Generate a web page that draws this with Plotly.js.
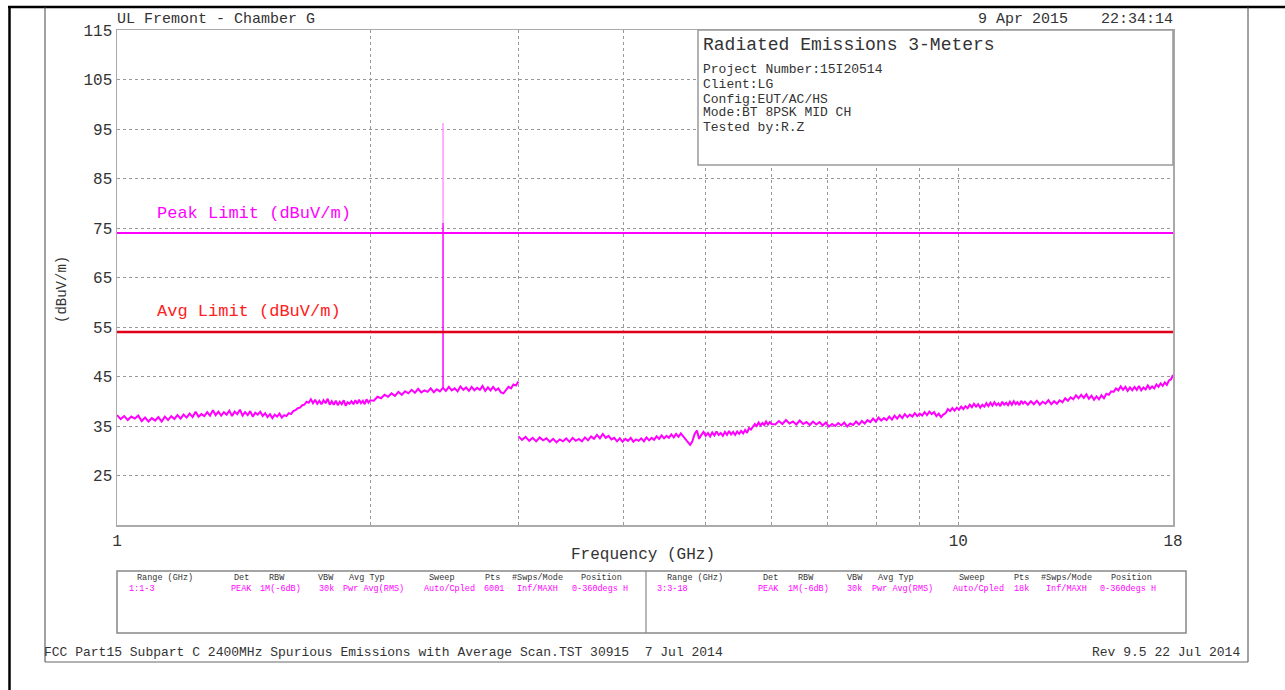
<!DOCTYPE html>
<html>
<head>
<meta charset="utf-8">
<script src="https://cdn.plot.ly/plotly-3.0.1.min.js"></script>
<style>html,body{margin:0;padding:0;background:#fff;}#chart{width:1285px;height:690px;}</style>
</head>
<body>
<div id="chart"></div>
<script>
// ---------------- DATA ----------------
// Scan 1: 1-3 GHz
const freqA = [
1.00,1.01,1.02,1.03,1.04,1.05,1.06,1.07,1.08,1.09,1.10,
1.11,1.12,1.13,1.14,1.15,1.16,1.17,1.18,1.19,1.20,
1.21,1.22,1.23,1.24,1.25,1.26,1.27,1.28,1.29,1.30,
1.31,1.32,1.33,1.34,1.35,1.36,1.37,1.38,1.39,1.40,
1.41,1.42,1.43,1.44,1.45,1.46,1.47,1.48,1.49,1.50,
1.51,1.52,1.53,1.54,1.55,1.56,1.57,1.58,1.59,1.60,
1.61,1.62,1.63,1.64,1.65,1.66,1.67,1.68,1.69,1.70,
1.71,1.72,1.73,1.74,1.75,1.76,1.77,1.78,1.79,1.80,
1.81,1.82,1.83,1.84,1.85,1.86,1.87,1.88,1.89,1.90,
1.91,1.92,1.93,1.94,1.95,1.96,1.97,1.98,1.99,2.00,
2.02,2.04,2.06,2.08,2.10,2.12,2.14,2.16,2.18,2.20,
2.22,2.24,2.26,2.28,2.30,2.32,2.34,2.36,2.38,2.40,
2.42,2.44,2.46,2.48,2.50,2.52,2.54,2.56,2.58,2.60,
2.62,2.64,2.66,2.68,2.70,2.72,2.74,2.76,2.78,2.80,
2.82,2.84,2.86,2.88,2.90,2.92,2.94,2.96,2.98,3.00];
const levelA = [
37.2,36.4,37.0,36.2,36.9,36.5,37.1,36.0,36.7,35.9,36.6,
36.1,36.8,35.9,36.9,36.2,37.0,36.4,37.2,36.5,37.3,
36.7,37.5,36.8,37.9,36.9,37.4,37.0,37.8,37.1,38.2,
37.2,37.9,37.1,37.8,37.3,38.1,37.0,37.9,37.4,38.3,
37.1,37.8,37.2,38.0,36.9,37.7,37.3,37.9,37.0,37.6,
36.8,37.4,36.6,37.3,36.9,37.5,36.7,37.2,37.0,37.6,
37.4,38.0,38.2,38.6,38.7,39.2,39.3,39.9,39.7,40.4,
39.6,40.3,39.5,40.1,39.4,40.2,39.6,40.5,39.3,40.0,
39.3,40.1,39.2,39.9,39.4,40.2,39.1,39.8,39.5,40.0,
39.4,40.2,39.5,40.3,39.6,40.1,39.4,40.4,39.7,40.2,
40.1,40.9,40.6,41.3,40.9,41.6,41.1,41.9,41.3,42.0,
41.6,42.3,41.7,42.5,41.8,42.2,41.9,42.6,41.8,42.4,
42.0,42.7,42.1,42.9,42.2,42.6,42.0,43.0,42.3,42.8,
42.1,42.9,42.2,42.7,42.3,43.1,42.1,42.8,42.2,42.9,
42.2,42.6,41.8,41.6,42.3,42.9,42.6,43.4,43.2,44.0];

// Scan 2: 3-18 GHz
const freqB = [
3.00,3.03,3.06,3.09,3.12,3.15,3.18,3.21,3.24,3.27,
3.30,3.33,3.36,3.39,3.42,3.45,3.48,3.51,3.54,3.57,
3.60,3.63,3.66,3.69,3.72,3.75,3.78,3.81,3.84,3.87,
3.90,3.93,3.96,3.99,4.02,4.05,4.08,4.11,4.14,4.17,
4.20,4.23,4.26,4.29,4.32,4.35,4.38,4.41,4.44,4.47,
4.50,4.53,4.56,4.59,4.62,4.65,4.68,4.71,4.74,4.77,
4.80,4.83,4.86,4.89,4.92,4.95,4.98,5.01,5.04,5.07,
5.10,5.13,5.16,5.19,5.22,5.25,5.28,5.31,5.34,5.37,
5.40,5.43,5.46,5.49,5.52,5.55,5.58,5.61,5.64,5.67,
5.70,5.73,5.76,5.79,5.82,5.85,5.88,5.91,5.94,5.97,
6.00,
6.06,6.12,6.18,6.24,6.30,6.36,6.42,6.48,6.54,6.60,
6.66,6.72,6.78,6.84,6.90,6.96,7.02,7.08,7.14,7.20,
7.26,7.32,7.38,7.44,7.50,7.56,7.62,7.68,7.74,7.80,
7.86,7.92,7.98,8.04,8.10,8.16,8.22,8.28,8.34,8.40,
8.46,8.52,8.58,8.64,8.70,8.76,8.82,8.88,8.94,9.00,
9.06,9.12,9.18,9.24,9.30,9.36,9.42,9.48,9.54,9.60,
9.66,9.72,9.78,9.84,9.90,9.96,10.02,10.08,10.14,10.20,
10.26,10.32,10.38,10.44,10.50,10.56,10.62,10.68,10.74,10.80,
10.86,10.92,10.98,11.04,11.10,11.16,11.22,11.28,11.34,11.40,
11.46,11.52,11.58,11.64,11.70,11.76,11.82,11.88,11.94,12.00,
12.1,12.2,12.3,12.4,12.5,12.6,12.7,12.8,12.9,13.0,
13.1,13.2,13.3,13.4,13.5,13.6,13.7,13.8,13.9,14.0,
14.1,14.2,14.3,14.4,14.5,14.6,14.7,14.8,14.9,15.0,
15.1,15.2,15.3,15.4,15.5,15.6,15.7,15.8,15.9,16.0,
16.1,16.2,16.3,16.4,16.5,16.6,16.7,16.8,16.9,17.0,
17.1,17.2,17.3,17.4,17.5,17.6,17.7,17.8,17.9,18.0];
const levelB = [
32.9,32.2,32.8,32.0,32.6,31.9,32.7,32.1,32.5,31.8,
32.4,31.7,32.3,31.9,32.5,31.8,32.6,32.0,32.4,31.9,
32.7,32.1,32.9,32.4,33.2,32.5,33.4,32.6,33.0,32.3,
32.6,31.9,32.5,31.8,32.4,32.0,32.6,31.8,32.3,32.0,
32.5,31.9,32.7,32.1,32.6,32.2,32.9,32.4,33.1,32.5,
33.0,32.6,33.3,32.7,33.4,32.8,33.5,32.9,32.4,31.8,
31.2,31.9,33.4,34.1,32.4,33.2,33.8,33.0,33.6,32.9,
33.7,33.1,33.9,33.2,33.6,33.0,33.8,33.2,34.0,33.3,
33.8,33.2,33.9,33.4,34.0,33.5,34.2,33.6,34.6,34.3,
34.9,35.4,35.0,35.7,35.1,35.6,35.2,35.9,35.3,35.8,
35.4,
35.3,36.0,35.4,36.2,35.5,35.9,35.3,36.1,35.4,35.8,
35.2,35.9,35.3,35.8,35.1,35.7,34.9,35.4,35.0,35.6,
35.1,35.7,34.9,35.5,35.2,35.9,35.3,36.0,35.5,36.2,
35.8,36.5,35.9,36.7,36.1,36.6,36.2,36.9,36.3,37.1,
36.5,37.2,36.6,37.4,36.8,37.3,36.9,37.6,37.0,37.5,
37.1,37.8,37.2,37.9,37.4,37.8,37.0,37.5,36.8,37.3,
37.6,38.4,38.0,38.6,38.1,38.7,38.3,38.9,38.4,39.0,
38.6,39.3,38.8,39.5,38.9,39.4,38.7,39.3,38.9,39.6,
39.0,39.7,39.1,39.8,39.2,39.6,39.0,39.9,39.3,39.7,
39.2,39.9,39.3,40.0,39.4,39.8,39.2,40.1,39.5,39.9,
39.3,40.0,39.4,40.1,39.3,39.9,39.5,40.2,39.4,40.0,
39.5,40.2,39.8,40.6,40.1,40.8,40.4,41.2,40.6,41.3,
40.7,41.4,40.5,41.1,40.3,41.0,40.4,41.2,40.6,41.5,
41.3,42.0,41.9,42.6,42.2,43.0,42.3,42.9,42.1,42.8,
42.2,42.9,42.3,43.1,42.2,42.8,42.4,43.2,42.5,43.0,
42.6,43.4,42.9,43.6,43.1,43.8,43.3,44.2,44.4,45.3];

// Carrier spike (2.441 GHz)
const spikeFreq = [2.441];
const spikeBase = [42.6];
const spikeKnee = [76.0];
const spikePeak = [96.2];

// Limits
const limitFreq = [1, 18];
const peakLimit = [74, 74];
const avgLimit = [54, 54];

// Axis ticks
const yTicks = [25, 35, 45, 55, 65, 75, 85, 95, 105, 115];
const xTickVals = [1, 2, 3, 4, 5, 6, 7, 8, 9, 10, 18];
const xTickText = ['1', '', '', '', '', '', '', '', '', '10', '18'];

// Texts
const siteTitle = 'UL Fremont - Chamber G';
const runDate = '9 Apr 2015';
const runTime = '22:34:14';
const boxTitle = 'Radiated Emissions 3-Meters';
const boxLines = ['Project Number:15I20514', 'Client:LG', 'Config:EUT/AC/HS', 'Mode:BT 8PSK MID CH', 'Tested by:R.Z'];
const peakLabel = 'Peak Limit (dBuV/m)';
const avgLabel = 'Avg Limit (dBuV/m)';
const yTitle = '(dBuV/m)';
const xTitle = 'Frequency (GHz)';
const tableHeaders = ['Range (GHz)', 'Det', 'RBW', 'VBW', 'Avg Typ', 'Sweep', 'Pts', '#Swps/Mode', 'Position'];
const table1Values = ['1:1-3', 'PEAK', '1M(-6dB)', '30k', 'Pwr Avg(RMS)', 'Auto/Cpled', '6001', 'Inf/MAXH', '0-360degs H'];
const table2Values = ['3:3-18', 'PEAK', '1M(-6dB)', '30k', 'Pwr Avg(RMS)', 'Auto/Cpled', '18k', 'Inf/MAXH', '0-360degs H'];
const footerLeft = 'FCC Part15 Subpart C 2400MHz Spurious Emissions with Average Scan.TST 30915  7 Jul 2014';
const footerRight = 'Rev 9.5 22 Jul 2014';

// ---------------- LAYOUT HELPERS ----------------
const L = 117, R = 1173, T = 30, B = 525;
const PX = x => (x - L) / (R - L);
const PY = y => (B - y) / (B - T);
const FONT = '"Liberation Mono", "DejaVu Sans Mono", monospace';
const TXT = '#333';
const MAG = '#ff00ff';

const traces = [
  {x: freqA, y: levelA, mode: 'lines', line: {color: MAG, width: 2}},
  {x: freqB, y: levelB, mode: 'lines', line: {color: MAG, width: 2}},
  {x: [spikeFreq[0], spikeFreq[0]], y: [spikeBase[0], spikeKnee[0]], mode: 'lines', line: {color: MAG, width: 1.5}},
  {x: [spikeFreq[0], spikeFreq[0]], y: [spikeKnee[0], spikePeak[0]], mode: 'lines', line: {color: '#ff99ff', width: 1.5}},
  {x: limitFreq, y: peakLimit, mode: 'lines', line: {color: MAG, width: 2}},
  {x: limitFreq, y: avgLimit, mode: 'lines', line: {color: '#e0001a', width: 2.5}}
];

function ann(text, x, y, xa, size, color, extra) {
  return Object.assign({text: text, xref: 'paper', yref: 'paper', x: PX(x), y: PY(y),
    xanchor: xa, yanchor: 'middle', showarrow: false,
    font: {family: FONT, size: size, color: color || TXT}}, extra || {});
}

const annotations = [
  ann(siteTitle, 115, 19, 'left', 15),
  ann(runDate, 1070, 19, 'right', 15),
  ann(runTime, 1175, 19, 'right', 15),
  ann(boxTitle, 701, 45, 'left', 18),
  ann(peakLabel, 155, 213, 'left', 17, MAG),
  ann(avgLabel, 155, 311, 'left', 17, '#ff2020'),
  ann(yTitle, 62, 290, 'center', 14, TXT, {textangle: -90}),
  ann(xTitle, 643, 555, 'center', 16),
  ann(footerLeft, 42, 652, 'left', 13),
  ann(footerRight, 1242, 652, 'right', 13)
];
const boxLineY = [70, 84, 99, 113, 127];
boxLines.forEach((t, i) => annotations.push(ann(t, 701, boxLineY[i], 'left', 13)));

const hdrX1 = [165, 241, 277, 326, 367, 442, 492, 537, 601];
const valX1 = [127, 241, 280, 326, 373, 449, 494, 537, 600];
const hdrX2 = [695, 770, 806, 855, 896, 972, 1021, 1066, 1131];
const valX2 = [655, 768, 808, 854, 902, 978, 1021, 1066, 1128];
tableHeaders.forEach((t, i) => {
  annotations.push(ann(t, hdrX1[i], 578, 'center', 8.5));
  annotations.push(ann(t, hdrX2[i], 578, 'center', 8.5));
});
table1Values.forEach((t, i) => annotations.push(ann(t, valX1[i], 589, i === 0 ? 'left' : 'center', 8.5, MAG)));
table2Values.forEach((t, i) => annotations.push(ann(t, valX2[i], 589, i === 0 ? 'left' : 'center', 8.5, MAG)));

function line(x0, y0, x1, y1, color, width) {
  return {type: 'line', xref: 'paper', yref: 'paper', x0: PX(x0), y0: PY(y0), x1: PX(x1), y1: PY(y1),
    line: {color: color, width: width}, layer: 'above'};
}
const shapes = [
  {type: 'rect', xref: 'paper', yref: 'paper', x0: PX(698), x1: PX(1173), y0: PY(165), y1: PY(30),
   fillcolor: '#fff', line: {color: '#999', width: 1.5}, layer: 'above'},
  {type: 'rect', xref: 'paper', yref: 'paper', x0: PX(117), x1: PX(1186), y0: PY(633), y1: PY(571),
   fillcolor: 'rgba(0,0,0,0)', line: {color: '#888', width: 1.5}, layer: 'above'},
  line(646, 571, 646, 633, '#888', 1.2),
  line(8, 7, 1285, 7, '#000', 2.5),
  line(9.5, 7, 9.5, 690, '#000', 2.5),
  line(45, 7, 45, 662, '#444', 1),
  line(1248, 7, 1248, 662, '#444', 1),
  line(45, 662, 1248, 662, '#666', 1)
];

const layout = {
  width: 1285, height: 690,
  margin: {l: L, r: 1285 - R, t: T, b: 690 - B, pad: 0},
  paper_bgcolor: '#fff', plot_bgcolor: '#fff',
  showlegend: false, hovermode: false,
  xaxis: {
    type: 'log', range: [0, Math.log10(18)],
    tickvals: xTickVals, ticktext: xTickText, ticks: '',
    showgrid: true, gridcolor: '#999', griddash: 'dot', gridwidth: 1,
    showline: true, mirror: true, linecolor: '#aaa', linewidth: 1.5,
    zeroline: false, tickfont: {family: FONT, size: 16, color: TXT}
  },
  yaxis: {
    range: [15, 115], tickvals: yTicks, ticks: '',
    showgrid: true, gridcolor: '#999', griddash: 'dot', gridwidth: 1,
    showline: true, mirror: true, linecolor: '#aaa', linewidth: 1.5,
    zeroline: false, tickfont: {family: FONT, size: 16, color: TXT}
  },
  annotations: annotations,
  shapes: shapes
};

Plotly.newPlot('chart', traces, layout, {displayModeBar: false, staticPlot: true});
</script>
</body>
</html>
